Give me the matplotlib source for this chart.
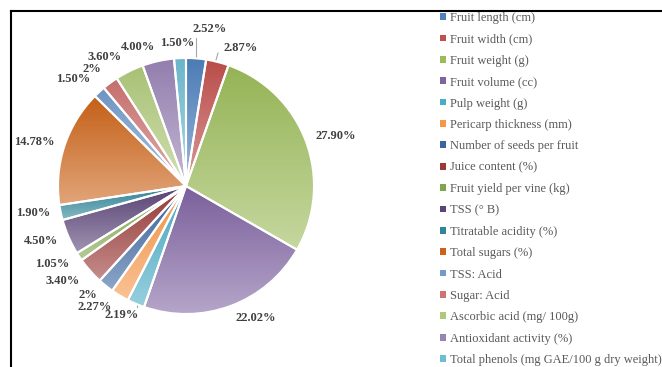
import numpy as np
import matplotlib
matplotlib.use('Agg')
import matplotlib.pyplot as plt
from matplotlib.colors import to_rgb
from matplotlib.patches import Patch, Wedge
from matplotlib.lines import Line2D

# parameters and their share (%)
labels = ['Fruit length (cm)', 'Fruit width (cm)', 'Fruit weight (g)', 'Fruit volume (cc)',
          'Pulp weight (g)', 'Pericarp thickness (mm)', 'Number of seeds per fruit',
          'Juice content (%)', 'Fruit yield per vine (kg)', 'TSS (° B)', 'Titratable acidity (%)',
          'Total sugars (%)', 'TSS: Acid', 'Sugar: Acid', 'Ascorbic acid (mg/ 100g)',
          'Antioxidant activity (%)', 'Total phenols (mg GAE/100 g dry weight)']
values = [2.52, 2.87, 27.90, 22.02, 2.19, 2.27, 2, 3.40, 1.05, 4.50, 1.90, 14.78, 1.50, 2, 3.60, 4.00, 1.50]
pct_text = ['2.52%', '2.87%', '27.90%', '22.02%', '2.19%', '2.27%', '2%', '3.40%', '1.05%',
            '4.50%', '1.90%', '14.78%', '1.50%', '2%', '3.60%', '4.00%', '1.50%']
colors = ['#4F81BD', '#C0504D', '#9BBB59', '#8064A2', '#4BACC6', '#F79646',
          '#3A65A0', '#9A3B38', '#7FA64A', '#5A4478', '#2F8599', '#CC6318',
          '#729ACA', '#CD7371', '#AFC97A', '#9983B5', '#6FBDD1']

# label centres in pixels (x, y from top)
label_pos = [(210, 29), (241, 48), (336, 136), (256, 318), (122, 315), (95, 307), (88, 295),
             (63, 281), (52, 264), (41, 241), (33, 213), (34, 142), (73, 79), (92, 69),
             (105, 57), (138, 47), (177, 43)]

W, H = 662, 367
fig = plt.figure(figsize=(W / 100, H / 100), dpi=100)
ax = fig.add_axes([0, 0, 1, 1])

cx, cy, r = 186, H - 186, 128
wedges, _ = ax.pie(values, colors=colors, startangle=90, counterclock=False,
                   center=(cx, cy), radius=r, wedgeprops=dict(edgecolor='none'))

# vertical gradient on each slice (darker top, lighter bottom)
t = np.linspace(0, 1, 64)[:, None]
for w, c in zip(wedges, colors):
    ext = w.get_path().get_extents()
    base = np.array(to_rgb(c))
    top = base * 0.96
    bot = base + (1 - base) * 0.42
    grad = (top * (1 - t) + bot * t)[:, None, :]
    im = ax.imshow(grad, extent=(ext.x0, ext.x1, ext.y0, ext.y1), origin='upper',
                   aspect='auto', interpolation='bilinear', zorder=2)
    im.set_clip_path(w)
    ax.add_patch(Wedge((cx, cy), r, w.theta1, w.theta2, fill=False,
                       edgecolor='white', linewidth=1.5, zorder=3))

for (px, py), s in zip(label_pos, pct_text):
    ax.text(px, H - py, s, ha='center', va='center', fontsize=9, fontweight='bold',
            family='Liberation Serif', color='#404040', zorder=4)

# leader lines
for (x0, y0), (x1, y1) in [((196, 38), (196, 57)), ((218, 53), (216, 60)),
                           ((137, 302), (137, 307))]:
    ax.plot([x0, x1], [H - y0, H - y1], color='#A6A6A6', lw=0.8, zorder=1)

ax.set_xlim(0, W)
ax.set_ylim(0, H)
ax.set_aspect('equal')
ax.axis('off')

# frame lines (left and top)
fig.add_artist(Line2D([11 / W, 11 / W], [0, 1 - 10.5 / H], transform=fig.transFigure,
                      color='black', lw=1.5))
fig.add_artist(Line2D([11 / W, 1], [1 - 10.5 / H, 1 - 10.5 / H], transform=fig.transFigure,
                      color='black', lw=1.5))

handles = [Patch(facecolor=c, edgecolor='none') for c in colors]
fig.legend(handles, labels, loc='upper left', bbox_to_anchor=(440 / W, 1 - 12 / H),
           frameon=False, prop=dict(family='Liberation Serif', size=9), labelcolor='#595959',
           handlelength=0.45, handleheight=0.45, handletextpad=0.35, labelspacing=0.75,
           borderpad=0, borderaxespad=0)

fig.savefig('out.png', dpi=100)
